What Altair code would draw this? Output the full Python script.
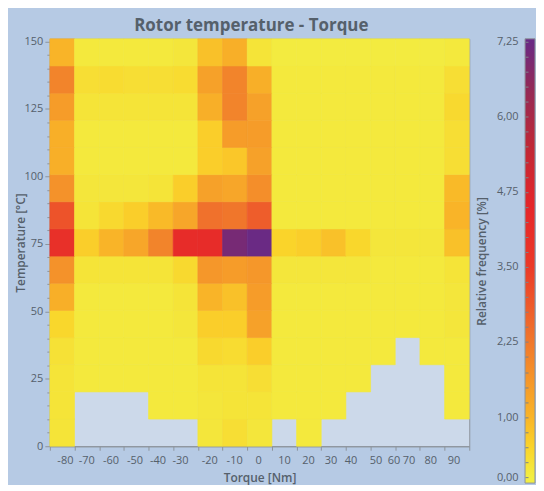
import json
import altair as alt
import pandas as pd

# ---- data -------------------------------------------------------------------
# 17 torque columns (index 0..16); 15 temperature rows (edges below)
temp_edges = [0, 10.07, 20.13, 30.2, 40.27, 50.33, 60.4, 70.47, 80.53,
              90.6, 100.67, 110.73, 120.8, 130.87, 140.93, 151.0]

# relative frequency [%] per row (bottom row first), None = no data
row_00 = [0.2, None, None, None, None, None, 0.15, 0.3, 0.15, None, 0.1, None, None, None, None, None, None]
row_01 = [0.2, None, None, None, 0.1, 0.1, 0.15, 0.2, 0.2, 0.1, 0.1, 0.1, None, None, None, None, 0.1]
row_02 = [0.2, 0.1, 0.1, 0.1, 0.1, 0.1, 0.2, 0.2, 0.3, 0.1, 0.1, 0.1, 0.1, None, None, None, 0.1]
row_03 = [0.25, 0.1, 0.1, 0.1, 0.1, 0.1, 0.4, 0.35, 0.6, 0.1, 0.1, 0.1, 0.1, 0.1, None, 0.1, 0.1]
row_04 = [0.45, 0.1, 0.1, 0.1, 0.1, 0.15, 0.6, 0.6, 1.4, 0.1, 0.1, 0.1, 0.1, 0.1, 0.1, 0.1, 0.15]
row_05 = [1.1, 0.1, 0.1, 0.1, 0.1, 0.2, 1.0, 0.8, 1.5, 0.1, 0.1, 0.1, 0.1, 0.1, 0.1, 0.1, 0.15]
row_06 = [1.7, 0.2, 0.2, 0.2, 0.2, 0.4, 1.6, 1.5, 1.6, 0.15, 0.15, 0.15, 0.15, 0.1, 0.1, 0.1, 0.2]
row_07 = [4.0, 0.6, 1.0, 1.3, 2.0, 4.2, 4.2, 7.0, 7.25, 0.5, 0.6, 0.8, 0.45, 0.15, 0.15, 0.15, 0.8]
row_08 = [3.0, 0.2, 0.4, 0.6, 0.9, 1.3, 2.4, 2.3, 2.8, 0.1, 0.1, 0.1, 0.1, 0.1, 0.1, 0.1, 1.0]
row_09 = [1.7, 0.15, 0.15, 0.15, 0.2, 0.6, 1.4, 1.3, 1.8, 0.1, 0.1, 0.1, 0.1, 0.1, 0.1, 0.1, 0.9]
row_10 = [1.1, 0.1, 0.1, 0.1, 0.1, 0.1, 0.6, 0.7, 1.4, 0.1, 0.1, 0.1, 0.1, 0.1, 0.1, 0.1, 0.3]
row_11 = [1.1, 0.1, 0.1, 0.1, 0.1, 0.1, 0.6, 1.5, 1.5, 0.1, 0.1, 0.1, 0.1, 0.1, 0.1, 0.1, 0.3]
row_12 = [1.5, 0.2, 0.2, 0.2, 0.2, 0.2, 1.1, 2.0, 1.4, 0.1, 0.1, 0.1, 0.1, 0.1, 0.1, 0.1, 0.4]
row_13 = [2.0, 0.3, 0.35, 0.3, 0.3, 0.35, 1.4, 2.0, 1.1, 0.1, 0.1, 0.1, 0.1, 0.1, 0.1, 0.1, 0.3]
row_14 = [1.0, 0.1, 0.1, 0.1, 0.1, 0.15, 0.8, 1.1, 0.2, 0.05, 0.05, 0.05, 0.05, 0.05, 0.05, 0.05, 0.1]
rows = [row_00, row_01, row_02, row_03, row_04, row_05, row_06, row_07,
        row_08, row_09, row_10, row_11, row_12, row_13, row_14]

# x tick labels and their positions (in column units)
torque_labels = ["-80", "-70", "-60", "-50", "-40", "-30", "-20", "-10", "0",
                 "10", "20", "30", "40", "50", "60", "70", "80", "90"]
torque_label_pos = [0.61, 1.48, 2.46, 3.43, 4.36, 5.28, 6.46, 7.47, 8.44,
                    9.49, 10.46, 11.38, 12.19, 13.2, 13.93, 14.54, 15.42, 16.36]

# colour scale
c_stops = [0, 0.5, 1.0, 1.75, 2.5, 3.5, 4.5, 5.5, 6.5, 7.25]
c_colors = ["#f2ee42", "#fad42a", "#f9b428", "#f4902a", "#ef6c2c",
            "#eb3a28", "#e5262a", "#c02836", "#922a58", "#6a2a84"]
legend_labels = [0, 1, 2.25, 3.5, 4.75, 6, 7.25]

# ---- build table -------------------------------------------------------------
recs = []
for r, row in enumerate(rows):
    for c, v in enumerate(row):
        if v is None:
            continue
        recs.append({"c0": c, "c1": c + 1, "t0": temp_edges[r],
                     "t1": temp_edges[r + 1], "f": v})
df = pd.DataFrame(recs)

FONT = "Open Sans"
TXT = "#55606b"
GRID = "#8d949c"
HEAT_W, HEAT_H = 421, 409

cscale = alt.Scale(domain=c_stops, range=c_colors, interpolate="rgb")

x_vals = list(range(18)) + torque_label_pos
x_label_expr = ("indexof({p}, datum.value) >= 0 ? {l}[indexof({p}, datum.value)] : ''"
                .format(p=json.dumps(torque_label_pos), l=json.dumps(torque_labels)))

y_vals = [v * 5 for v in range(31)]

heat = alt.Chart(df).mark_rect(strokeWidth=0.6).encode(
    x=alt.X("c0:Q", scale=alt.Scale(domain=[0, 17], nice=False, zero=False),
            axis=alt.Axis(values=x_vals, labelExpr=x_label_expr, title="Torque [Nm]",
                          labelOverlap=False, labelFlush=False, labelBound=False,
                          grid=False,
                          tickOpacity={"condition": {"test": "datum.value == floor(datum.value)", "value": 1}, "value": 0},
                          tickSize=4, labelPadding=4, titlePadding=7)),
    x2="c1:Q",
    y=alt.Y("t0:Q", scale=alt.Scale(domain=[0, 151], nice=False),
            axis=alt.Axis(values=y_vals, title="Temperature [°C]",
                          labelExpr="datum.value % 25 == 0 ? datum.value : ''",
                          labelOverlap=False, labelFlush=False, grid=False,
                          tickSize={"condition": {"test": "datum.value % 25 == 0", "value": 5}, "value": 3},
                          labelPadding=2,
                          titleX=-22, titleY=HEAT_H / 2, titleAngle=270,
                          titleAlign="center", titleBaseline="bottom")),
    y2="t1:Q",
    color=alt.Color("f:Q", scale=cscale, legend=None),
    stroke=alt.Stroke("f:Q", scale=cscale, legend=None),
).properties(width=HEAT_W, height=HEAT_H,
             view=alt.ViewBackground(stroke=GRID, fill="#ccd9ea"))

# colour bar
cb_lo, cb_hi = -0.1, 7.3
grad = alt.LinearGradient(
    gradient="linear", x1=0, x2=0, y1=1, y2=0,
    stops=[alt.GradientStop(offset=(s - cb_lo) / (cb_hi - cb_lo), color=col)
           for s, col in zip(c_stops, c_colors)])
cb_df = pd.DataFrame({"lo": [cb_lo], "hi": [cb_hi]})
cb_ticks = [v * 0.25 for v in range(30)]
cb_label_expr = ("indexof({l}, datum.value) >= 0 ? replace(format(datum.value, '.2f'), '.', ',') : ''"
                 .format(l=json.dumps(legend_labels)))
cbar = alt.Chart(cb_df).mark_rect(fill=grad, stroke=GRID, strokeWidth=1).encode(
    x=alt.value(0), x2=alt.value(10),
    y=alt.Y("lo:Q", scale=alt.Scale(domain=[cb_lo, cb_hi], nice=False, zero=False),
            axis=alt.Axis(values=cb_ticks, labelExpr=cb_label_expr,
                          title="Relative frequency [%]", labelOverlap=False,
                          labelFlush=False, grid=False, domain=False,
                          tickSize=3, offset=-3, zindex=1, tickColor="#7d848c",
                          labelPadding=7, titlePadding=8)),
    y2="hi:Q",
).properties(width=10, height=446, view=alt.ViewBackground(stroke="transparent"))

chart = alt.hconcat(heat, cbar, spacing=4).properties(
    title=alt.TitleParams("Rotor temperature - Torque", fontSize=17, font=FONT,
                          fontWeight="bold", color=TXT, anchor="middle", dx=-24,
                          offset=0),
    background="#b6cae4",
    padding={"left": 6, "top": 8, "right": 0, "bottom": 0},
).configure_axis(
    labelFont=FONT, labelFontSize=11, labelColor=TXT,
    titleFont=FONT, titleFontSize=12, titleFontWeight=600, titleColor=TXT,
    domainColor=GRID, tickColor=GRID,
).configure_view(stroke="transparent")

chart.save("out.html", embed_options={"renderer": "svg", "actions": False})
